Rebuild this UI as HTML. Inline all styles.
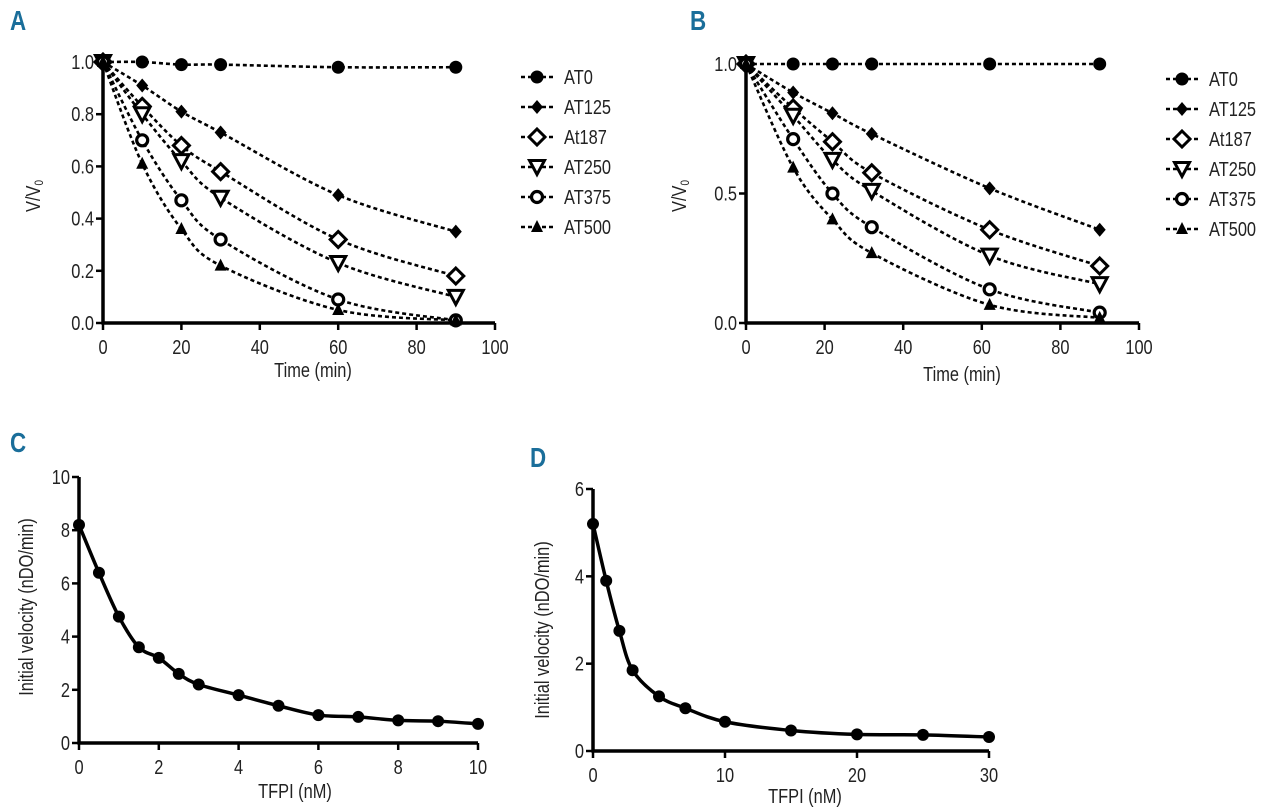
<!DOCTYPE html>
<html><head><meta charset="utf-8"><style>
html,body{margin:0;padding:0;background:#fff;}
svg{display:block;font-family:"Liberation Sans",sans-serif;}
.tick{font-size:20px;fill:#222;}
.ttl{font-size:20px;fill:#222;}
.lab{font-size:28px;font-weight:bold;fill:#1a6e9a;}
</style></head><body>
<svg id="fig" width="1280" height="810" viewBox="0 0 1280 810">
<g transform="translate(10,30) scale(0.8,1)"><text class="lab" x="0" y="0">A</text></g>
<g transform="translate(690,30) scale(0.8,1)"><text class="lab" x="0" y="0">B</text></g>
<g transform="translate(10,452) scale(0.8,1)"><text class="lab" x="0" y="0">C</text></g>
<g transform="translate(530,467) scale(0.8,1)"><text class="lab" x="0" y="0">D</text></g>
</svg>
<script>
const seriesNames=["AT0","AT125","At187","AT250","AT375","AT500"];
const seriesMarkers=["circle","diamond","odiamond","otri","ocircle","tri"];
const timeA=[0,10,20,30,60,90];
const a_AT0=[1,1.0,0.99,0.99,0.98,0.98];
const a_AT125=[1,0.91,0.81,0.73,0.49,0.35];
const a_At187=[1,0.83,0.68,0.58,0.32,0.18];
const a_AT250=[1,0.80,0.62,0.48,0.23,0.10];
const a_AT375=[1,0.70,0.47,0.32,0.09,0.01];
const a_AT500=[1,0.61,0.36,0.22,0.05,0.01];
const timeB=[0,12,22,32,62,90];
const b_AT0=[1,1,1,1,1,1];
const b_AT125=[1,0.89,0.81,0.73,0.52,0.36];
const b_At187=[1,0.83,0.70,0.58,0.36,0.22];
const b_AT250=[1,0.80,0.63,0.51,0.26,0.15];
const b_AT375=[1,0.71,0.50,0.37,0.13,0.04];
const b_AT500=[1,0.60,0.40,0.27,0.07,0.02];
const tfpiC=[0,0.5,1,1.5,2,2.5,3,4,5,6,7,8,9,10];
const velC=[8.2,6.4,4.75,3.6,3.2,2.6,2.2,1.8,1.4,1.05,0.98,0.85,0.82,0.72];
const tfpiD=[0,1,2,3,5,7,10,15,20,25,30];
const velD=[5.2,3.9,2.75,1.85,1.25,0.98,0.67,0.47,0.38,0.37,0.32];
const ticksAx=["0","20","40","60","80","100"];
const ticksAy=["0.0","0.2","0.4","0.6","0.8","1.0"];
const ticksBy=["0.0","0.5","1.0"];
const ticksCx=["0","2","4","6","8","10"];
const ticksCy=["0","2","4","6","8","10"];
const ticksDx=["0","10","20","30"];
const ticksDy=["0","2","4","6"];

const NS="http://www.w3.org/2000/svg";
const svg=document.getElementById("fig");
const SX=0.82;
function mk(tag,attrs,parent){const e=document.createElementNS(NS,tag);for(const k in attrs)e.setAttribute(k,attrs[k]);(parent||svg).appendChild(e);return e;}
function ctext(parent,x,y,anchor,cls,rot){
 const g=mk("g",{transform:`translate(${x},${y})`+(rot?" rotate(-90)":"")+` scale(${SX},1)`},parent);
 return mk("text",{x:0,y:0,"text-anchor":anchor,class:cls},g);
}
function smooth(pts){let d="M"+pts[0][0]+","+pts[0][1];for(let i=0;i<pts.length-1;i++){const p0=pts[i-1]||pts[i],p1=pts[i],p2=pts[i+1],p3=pts[i+2]||p2;
d+=" C"+(p1[0]+(p2[0]-p0[0])/6)+","+(p1[1]+(p2[1]-p0[1])/6)+" "+(p2[0]-(p3[0]-p1[0])/6)+","+(p2[1]-(p3[1]-p1[1])/6)+" "+p2[0]+","+p2[1];}return d;}
function marker(g,type,x,y){
 if(type==="circle"){mk("circle",{cx:x,cy:y,r:6.5,fill:"#000"},g);}
 else if(type==="ocircle"){mk("circle",{cx:x,cy:y,r:5.5,fill:"#fff",stroke:"#000","stroke-width":3.2},g);}
 else if(type==="diamond"){mk("polygon",{points:`${x},${y-7} ${x+6},${y} ${x},${y+7} ${x-6},${y}`,fill:"#000"},g);}
 else if(type==="odiamond"){mk("polygon",{points:`${x},${y-8} ${x+8},${y} ${x},${y+8} ${x-8},${y}`,fill:"#fff",stroke:"#000","stroke-width":3},g);}
 else if(type==="otri"){mk("polygon",{points:`${x-7.5},${y-6.5} ${x+7.5},${y-6.5} ${x},${y+7.5}`,fill:"#fff",stroke:"#000","stroke-width":3},g);}
 else if(type==="tri"){mk("polygon",{points:`${x-6},${y+5} ${x+6},${y+5} ${x},${y-7}`,fill:"#000"},g);}
}
function axes(p){
 const g=mk("g",{});
 
 
 mk("line",{x1:p.x0,y1:p.yT,x2:p.x0,y2:p.y0+1.5,stroke:"#000","stroke-width":3.5},g);
 mk("line",{x1:p.x0-1.5,y1:p.y0,x2:p.x1,y2:p.y0,stroke:"#000","stroke-width":3.5},g);
 p.xt.forEach((t,i)=>{const x=p.x0+(p.x1-p.x0)*i/(p.xt.length-1);
  mk("line",{x1:x,y1:p.y0,x2:x,y2:p.y0+7,stroke:"#000","stroke-width":2.5},g);
  const tx=ctext(g,x,p.y0+31,"middle","tick");tx.textContent=t;
  
  });
 p.yt.forEach((t,i)=>{const y=p.y0-(p.y0-p.yT)*i/(p.yt.length-1);
  mk("line",{x1:p.x0-7,y1:y,x2:p.x0,y2:y,stroke:"#000","stroke-width":2.5},g);
  const ty=ctext(g,p.x0-9,y+7,"end","tick");ty.textContent=t;
  
  });
 const xt=ctext(g,p.xtx,p.xty,"middle","ttl");xt.textContent=p.xtitle;
 
 
 const yt=ctext(g,p.ytx,p.yty,"middle","ttl",true);
 yt.innerHTML=p.ytitle;
 
 
}
function decay(p,xs,list,leg){
 axes(p);
 const sx=v=>p.x0+(p.x1-p.x0)*v/p.xmax, sy=v=>p.y0-(p.y0-p.yT)*v/p.ymax;
 list.forEach((ys,si)=>{
  const g=mk("g",{});
  
  
  const pts=xs.map((x,i)=>[sx(x),sy(ys[i])]);
  mk("path",{d:smooth(pts),fill:"none",stroke:"#000","stroke-width":2.6,"stroke-dasharray":"4,3"},g);
  pts.forEach(pt=>marker(g,seriesMarkers[si],pt[0],pt[1]));
  const le=mk("g",{});
  
  
  const ly=leg.y+30*si;
  mk("line",{x1:leg.x,y1:ly,x2:leg.x+33,y2:ly,stroke:"#000","stroke-width":2.6,"stroke-dasharray":"4,3"},le);
  marker(le,seriesMarkers[si],leg.x+16,ly);
  const t=ctext(le,leg.x+43,ly+7,"start","tick");t.textContent=seriesNames[si];
 });
}
function hyper(p,xs,ys){
 axes(p);
 const sx=v=>p.x0+(p.x1-p.x0)*v/p.xmax, sy=v=>p.y0-(p.y0-p.yT)*v/p.ymax;
 const pts=xs.map((x,i)=>[sx(x),sy(ys[i])]);
 const c=mk("path",{d:smooth(pts),fill:"none",stroke:"#000","stroke-width":3.5});
 
 
 pts.forEach(pt=>{const m=mk("circle",{cx:pt[0],cy:pt[1],r:6,fill:"#000"});
  
  });
}
const vv='V/V<tspan font-size="12" dy="3">0</tspan>';
decay({name:"panel-a",x0:103,x1:495,y0:323,yT:62,xmax:100,ymax:1,xt:ticksAx,yt:ticksAy,xtitle:"Time (min)",xtx:313,xty:377,ytitle:vv,ytx:40,yty:196},
 timeA,[a_AT0,a_AT125,a_At187,a_AT250,a_AT375,a_AT500],{x:521,y:77});
decay({name:"panel-b",x0:746,x1:1139,y0:323,yT:64,xmax:100,ymax:1,xt:ticksAx,yt:ticksBy,xtitle:"Time (min)",xtx:962,xty:381,ytitle:vv,ytx:686,yty:196},
 timeB,[b_AT0,b_AT125,b_At187,b_AT250,b_AT375,b_AT500],{x:1166,y:79});
hyper({name:"panel-c",x0:79,x1:478,y0:743,yT:477,xmax:10,ymax:10,xt:ticksCx,yt:ticksCy,xtitle:"TFPI (nM)",xtx:295,xty:798,ytitle:"Initial velocity (nDO/min)",ytx:33,yty:607},tfpiC,velC);
hyper({name:"panel-d",x0:593,x1:989,y0:751,yT:489,xmax:30,ymax:6,xt:ticksDx,yt:ticksDy,xtitle:"TFPI (nM)",xtx:805,xty:803,ytitle:"Initial velocity (nDO/min)",ytx:549,yty:630},tfpiD,velD);
</script>
</body></html>
